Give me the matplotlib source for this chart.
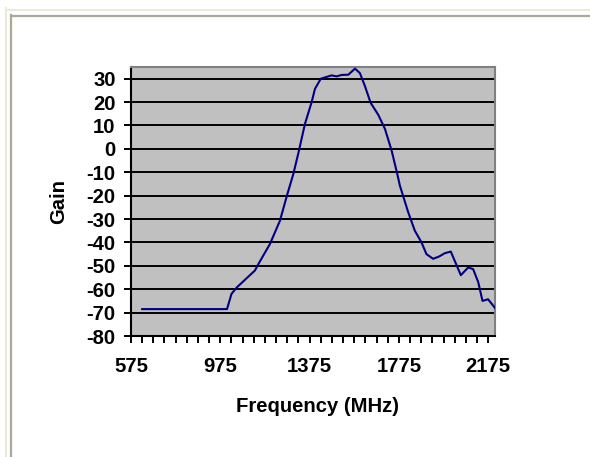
import matplotlib
matplotlib.use("Agg")
import matplotlib.pyplot as plt
from matplotlib.lines import Line2D
from matplotlib.ticker import FixedLocator

# ---- data ----
freq_mhz = [625, 1005, 1025, 1048, 1085, 1130, 1145, 1197, 1242, 1272, 1302, 1324,
            1354, 1384, 1399, 1425, 1473, 1496, 1518, 1548, 1578, 1600, 1622, 1648,
            1682, 1712, 1742, 1769, 1779, 1816, 1846, 1876, 1898, 1928, 1955, 1980,
            2007, 2052, 2085, 2107, 2130, 2149, 2174, 2205]
gain_db = [-68.5, -68.5, -62, -59.3, -56, -52, -49.3, -40.7, -30.7, -20.4, -10.7, -2,
           10.7, 20, 25.7, 30, 31.4, 31, 31.6, 31.7, 34.3, 32.4, 27, 19.7,
           14.6, 8.6, -0.7, -11.4, -15.7, -27, -35, -40, -45, -47, -46, -44.6,
           -43.9, -54, -50.7, -51.4, -57, -65, -64.3, -68]
x_major = [575, 975, 1375, 1775, 2175]
x_minor = list(range(575, 2176, 50))
y_ticks = list(range(-80, 31, 10))
x_title = "Frequency (MHz)"
y_title = "Gain"

W, H = 590, 457
plt.rcParams['font.family'] = ['Liberation Sans', 'DejaVu Sans']
fig = plt.figure(figsize=(W / 100, H / 100), dpi=100)
fig.patch.set_facecolor('white')

# window-like frame lines
def fx(px):
    return px / W

def fy(py):
    return 1 - py / H

beige = '#ECE9D8'
grayf = '#ACA899'
fig.add_artist(Line2D([fx(6), fx(W)], [fy(9.8), fy(9.8)], color=beige, lw=1.5, transform=fig.transFigure))
fig.add_artist(Line2D([fx(6.2), fx(6.2)], [fy(8), fy(H)], color=beige, lw=1.5, transform=fig.transFigure))
fig.add_artist(Line2D([fx(10.8), fx(W)], [fy(15.7), fy(15.7)], color=grayf, lw=1.6, transform=fig.transFigure))
fig.add_artist(Line2D([fx(10.8), fx(10.8)], [fy(15), fy(H)], color=grayf, lw=1.6, transform=fig.transFigure))

left, right, top, bottom = 131, 495, 67, 336
ax = fig.add_axes([left / W, 1 - bottom / H, (right - left) / W, (bottom - top) / H])
ax.set_facecolor('#C0C0C0')

ax.plot(freq_mhz, gain_db, color='#000080', lw=1.5, zorder=3, solid_joinstyle='round')

ax.set_xlim(575, 2205)
ax.set_ylim(-80, 35)
ax.set_yticks(y_ticks)
ax.set_yticklabels([str(v) for v in y_ticks])
ax.xaxis.set_major_locator(FixedLocator(x_major))
ax.set_xticklabels([str(v) for v in x_major])
ax.xaxis.set_minor_locator(FixedLocator([v for v in x_minor if v not in x_major]))

ax.yaxis.grid(True, color='black', lw=1.4, zorder=1)
ax.xaxis.grid(False)

for s in ['left', 'bottom']:
    ax.spines[s].set_color('black')
    ax.spines[s].set_linewidth(1.5)
for s in ['top', 'right']:
    ax.spines[s].set_color('#808080')
    ax.spines[s].set_linewidth(1.5)

fs = 14.6
ax.tick_params(axis='y', which='major', direction='out', length=5, width=1.4,
               color='black', pad=6.0, labelsize=fs)
ax.tick_params(axis='x', which='both', direction='out', length=5, width=1.4,
               color='black')
ax.tick_params(axis='x', which='major', pad=10.0, labelsize=fs)
for lab in ax.get_xticklabels() + ax.get_yticklabels():
    lab.set_fontweight('bold')

ax.set_xlabel(x_title, fontsize=fs, fontweight='bold', va='center')
ax.xaxis.set_label_coords((318 - left) / (right - left), (bottom - 407) / (bottom - top))
ax.set_ylabel(y_title, fontsize=fs, fontweight='bold', va='center')
ax.yaxis.set_label_coords((59 - left) / (right - left), (bottom - 202) / (bottom - top))

fig.savefig('out.png', dpi=100, facecolor='white')
